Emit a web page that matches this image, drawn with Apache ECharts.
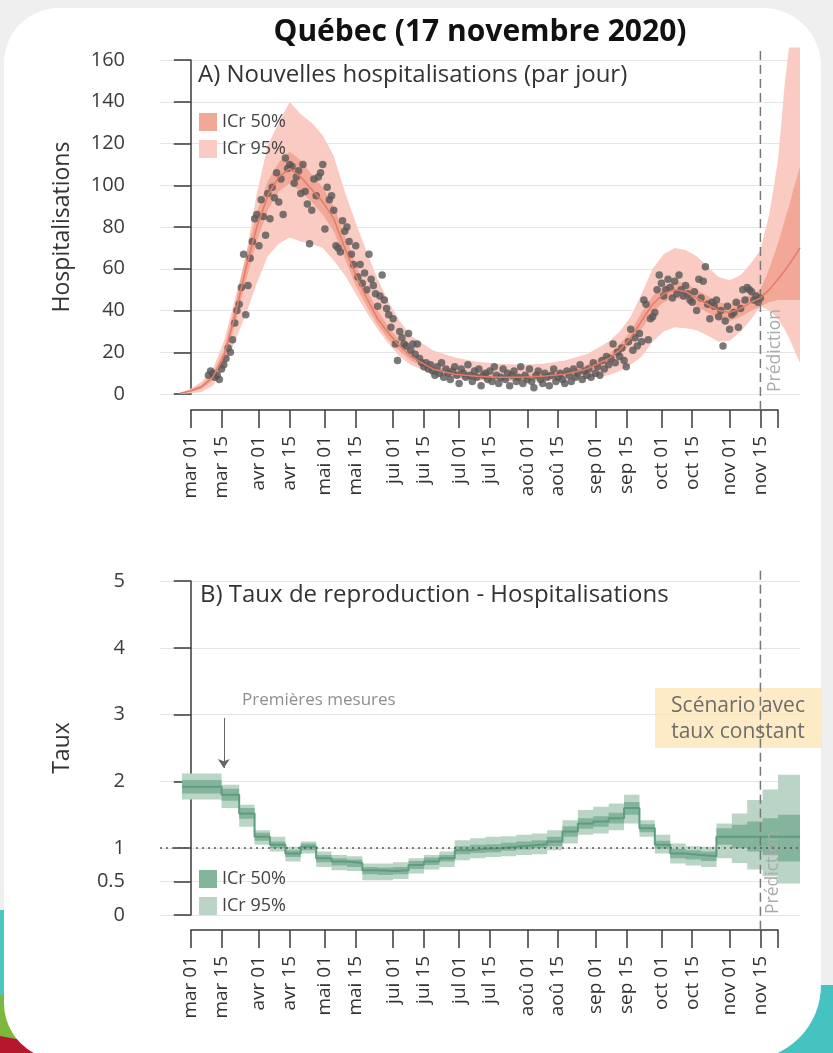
<!DOCTYPE html>
<html lang="fr">
<head>
<meta charset="utf-8">
<title>Québec (17 novembre 2020)</title>
<script src="https://cdn.jsdelivr.net/npm/echarts@6.0.0/dist/echarts.min.js"></script>
<style>
  html, body { margin: 0; padding: 0; }
  body { width: 833px; height: 1053px; position: relative; overflow: hidden; background: #efefef; }
  .deco { position: absolute; }
  #teal-left { left: 0; top: 910px; width: 70px; height: 106px; background: #4ec6c0; }
  #green-left { left: 0; top: 995px; width: 120px; height: 58px; background: #7cb83e; clip-path: polygon(0 0, 100% 35%, 100% 100%, 0 100%); }
  #red-left { left: 0; top: 1036px; width: 90px; height: 17px; background: #b5172c; clip-path: polygon(0 0, 100% 100%, 0 100%); }
  #teal-right { right: 0; top: 985px; width: 80px; height: 68px; background: #46c3c1; }
  #card { position: absolute; left: 4px; top: 8px; width: 817px; height: 1052px; background: #fff; border-radius: 55px 58px 75px 57px; }
  #chart { position: absolute; left: 0; top: 0; width: 833px; height: 1053px; }
</style>
</head>
<body>
<div class="deco" id="teal-left"></div>
<div class="deco" id="green-left"></div>
<div class="deco" id="red-left"></div>
<div class="deco" id="teal-right"></div>
<div id="card"></div>
<div id="chart"></div>
<script>
// jours comptés depuis le 1er mars 2020
const tickDays = [0, 14, 31, 45, 61, 75, 92, 106, 122, 136, 153, 167, 184, 198, 214, 228, 245, 259];
const tickLabels = ['mar 01', 'mar 15', 'avr 01', 'avr 15', 'mai 01', 'mai 15', 'jui 01', 'jui 15', 'jul 01',
  'jul 15', 'aoû 01', 'aoû 15', 'sep 01', 'sep 15', 'oct 01', 'oct 15', 'nov 01', 'nov 15'];
const axisEndDay = 267;
const predictionDay = 259;

// A) nouvelles hospitalisations observées, une valeur par jour à partir du 9 mars (jour 8)
const hospStartDay = 8;
const hospDaily = [
  9, 11, 10, 8, 9, 7, 12, 14, 17, 22,
  20, 26, 34, 40, 43, 51, 67, 38, 52, 65,
  73, 84, 86, 71, 93, 85, 76, 96, 84, 99,
  94, 106, 92, 103, 86, 113, 108, 110, 109, 101,
  104, 107, 96, 110, 97, 91, 72, 88, 103, 95,
  104, 106, 110, 79, 99, 93, 95, 88, 71, 70,
  68, 83, 78, 80, 73, 67, 62, 71, 56, 62,
  53, 58, 50, 67, 55, 52, 48, 42, 47, 57,
  45, 41, 38, 32, 36, 24, 16, 30, 27, 24,
  23, 29, 21, 24, 19, 24, 17, 15, 13, 15,
  12, 14, 11, 9, 13, 10, 15, 8, 12, 10,
  7, 11, 13, 9, 5, 12, 10, 8, 14, 9,
  6, 11, 8, 12, 4, 9, 10, 7, 11, 6,
  13, 9, 5, 8, 12, 7, 10, 4, 9, 11,
  6, 8, 13, 5, 9, 7, 12, 6, 3, 9,
  11, 7, 5, 10, 8, 4, 9, 12, 6, 8,
  10, 7, 5, 11, 9, 6, 12, 8, 10, 14,
  7, 11, 9, 12, 8, 15, 10, 13, 9, 16,
  12, 18, 14, 17, 24, 15, 20, 18, 22, 16,
  13, 25, 31, 21, 27, 23, 29, 25, 45, 43,
  26, 36, 37, 39, 50, 57, 53, 47, 50, 55,
  51, 46, 54, 48, 57, 50, 47, 52, 48, 45,
  44, 49, 40, 55, 46, 54, 61, 43, 36, 44,
  42, 45, 37, 40, 23, 35, 42, 31, 38, 39,
  44, 32, 41, 50, 45, 51, 50, 49, 45, 47,
  44, 46
];

// A) médiane et intervalles crédibles du modèle
const bandDays = [-5, 0, 5, 10, 15, 20, 25, 30, 35, 40, 45, 50, 55, 60, 65, 70, 75, 80, 85, 90, 95, 100,
  110, 120, 130, 140, 150, 160, 170, 180, 190, 195, 200, 205, 210, 215, 220, 225, 230, 235, 240, 245,
  250, 255, 259, 263, 267, 270, 272, 274, 277];
const hospMed = [0.3, 1.5, 3.5, 8, 18, 37, 60, 80, 95, 104, 108, 104, 98, 92, 84, 70, 57, 46, 36, 29, 23, 18,
  12, 9.5, 8.5, 8, 8, 8.5, 9.5, 12, 17, 21, 27, 35, 43, 48, 50, 49, 46, 43, 40, 39,
  41, 44, 46, 50, 55, 59, 62, 65, 70];
const hospLo50 = [0.1, 1, 2.5, 6.5, 15, 33, 54, 73, 88, 97, 101, 97, 92, 86, 78, 65, 52, 42, 33, 26, 20.5, 16,
  10.5, 8, 7, 6.5, 6.5, 7, 8, 10, 15, 18.5, 24, 31, 39, 44, 46, 45, 42, 39, 36, 35,
  37, 40, 42, 44, 45, 45, 45, 45, 45];
const hospHi50 = [0.5, 2, 4.5, 10, 21, 42, 66, 87, 102, 111, 116, 112, 105, 99, 90, 76, 62, 50, 40, 32, 25.5, 20,
  13.5, 11, 10, 9.5, 9.5, 10, 11, 14, 19, 24, 30, 39, 47, 52, 54, 53, 50, 47, 44, 43,
  45, 48, 50, 60, 72, 83, 90, 98, 109];
const hospLo95 = [0, 0.3, 1, 4, 12, 25, 38, 53, 66, 72, 75, 73, 72, 70, 64, 57, 48, 39, 31, 24, 18, 14,
  9.5, 7.5, 6.5, 6.2, 6.2, 6.2, 6.5, 7.5, 9, 11, 14, 18, 25, 30, 32, 31.5, 30.5, 28, 25, 25.5,
  30, 36, 42, 40, 36, 31, 27, 22, 15];
const hospHi95 = [0.6, 2.5, 6, 12, 25, 45, 66, 96, 119, 130, 140, 134, 130, 124, 114, 97, 82, 68, 55, 44, 35, 28,
  21, 17.5, 15.5, 14.5, 14, 14.5, 16, 19, 25, 30, 37, 48, 60, 67, 70, 69, 66, 61, 56, 54.5,
  57, 63, 69, 86, 112, 148, 166, 166, 166];

// B) taux de reproduction, valeurs par palier (début de chaque palier)
const rtDays = [-4, 14, 22, 29, 36, 43, 50, 57, 64, 71, 78, 85, 92, 99, 106, 113, 120, 127, 134, 141, 148,
  155, 162, 169, 176, 183, 190, 197, 204, 211, 218, 225, 232, 239, 246, 253, 260, 267, 277];
const rtMed = [1.92, 1.80, 1.52, 1.17, 1.05, 0.92, 1.02, 0.85, 0.80, 0.78, 0.67, 0.66, 0.67, 0.75, 0.80, 0.85,
  0.97, 0.99, 1.0, 1.02, 1.04, 1.06, 1.1, 1.25, 1.37, 1.4, 1.45, 1.6, 1.3, 1.05, 0.92, 0.9, 0.88,
  1.17, 1.17, 1.17, 1.17, 1.17, 1.17];
const rtLo50 = [1.82, 1.71, 1.44, 1.11, 1.0, 0.87, 0.97, 0.79, 0.74, 0.72, 0.61, 0.60, 0.61, 0.69, 0.75, 0.80,
  0.91, 0.93, 0.94, 0.96, 0.98, 1.0, 1.03, 1.17, 1.29, 1.32, 1.37, 1.5, 1.24, 0.99, 0.85, 0.83, 0.81,
  1.05, 1.0, 0.95, 0.9, 0.8, 0.8];
const rtHi50 = [2.02, 1.89, 1.60, 1.23, 1.10, 0.97, 1.07, 0.90, 0.85, 0.83, 0.72, 0.71, 0.72, 0.81, 0.86, 0.90,
  1.03, 1.05, 1.06, 1.08, 1.10, 1.12, 1.17, 1.33, 1.45, 1.48, 1.53, 1.69, 1.36, 1.11, 0.99, 0.97, 0.95,
  1.3, 1.35, 1.4, 1.45, 1.5, 1.5];
const rtLo95 = [1.73, 1.60, 1.32, 1.05, 0.95, 0.80, 0.92, 0.72, 0.67, 0.66, 0.52, 0.52, 0.54, 0.62, 0.68, 0.72,
  0.82, 0.85, 0.87, 0.88, 0.90, 0.91, 0.97, 1.07, 1.20, 1.22, 1.27, 1.37, 1.17, 0.92, 0.77, 0.74, 0.72,
  0.85, 0.78, 0.68, 0.58, 0.47, 0.47];
const rtHi95 = [2.12, 1.95, 1.65, 1.27, 1.17, 1.02, 1.10, 0.95, 0.90, 0.88, 0.77, 0.77, 0.79, 0.85, 0.90, 0.95,
  1.12, 1.15, 1.17, 1.18, 1.20, 1.22, 1.27, 1.42, 1.57, 1.62, 1.67, 1.80, 1.42, 1.20, 1.07, 1.03, 1.02,
  1.37, 1.52, 1.72, 1.88, 2.1, 2.1];

const legendText = { h50: 'ICr 50%', h95: 'ICr 95%', r50: 'ICr 50%', r95: 'ICr 95%' };
const font = '"Open Sans", sans-serif';
const ink = '#3a3a3a';
const pink95 = '#f9cbc2', pink50 = '#f3a797', pinkLine = '#e27c67';
const green95 = '#bad5c6', green50 = '#84b49b', greenLine = '#5e9c7e';

const pairs = (xs, ys) => xs.map((x, i) => [x, ys[i]]);

// bande entre lo et hi, dessinée comme un polygone via api.coord
function band(name, axis, xs, lo, hi, color, stepped) {
  return {
    type: 'custom', name, xAxisIndex: axis, yAxisIndex: axis, silent: true, clip: false,
    itemStyle: { color },
    data: [[xs[0], lo[0]]],
    renderItem: (params, api) => {
      const upper = [], lower = [];
      xs.forEach((x, i) => {
        if (stepped && i > 0) {
          upper.push(api.coord([x, hi[i - 1]]));
          lower.push(api.coord([x, lo[i - 1]]));
        }
        upper.push(api.coord([x, hi[i]]));
        lower.push(api.coord([x, lo[i]]));
      });
      return { type: 'polygon', shape: { points: upper.concat(lower.reverse()) }, style: { fill: color } };
    }
  };
}

function yAxisBase(grid, name) {
  return {
    gridIndex: grid, type: 'value', name, nameLocation: 'middle', nameGap: 86,
    nameTextStyle: { fontSize: 23, color: '#333' },
    axisLine: { show: true, lineStyle: { color: ink, width: 1.5 } },
    axisTick: { show: true, length: 17, lineStyle: { color: ink, width: 1.5 } },
    axisLabel: { margin: 35, fontSize: 20, color: '#3c3c3c' },
    splitLine: { show: true, lineStyle: { color: '#e4e4e4', width: 1 } }
  };
}

function tickAxis(grid) {
  return {
    gridIndex: grid, type: 'value', min: 0, max: axisEndDay, position: 'bottom',
    axisLine: { show: true, onZero: false, lineStyle: { color: ink, width: 1.5 } },
    axisTick: { show: true, length: 18, customValues: tickDays.concat([axisEndDay]), lineStyle: { color: ink, width: 1.5 } },
    axisLabel: { customValues: tickDays, rotate: 90, margin: 26, fontSize: 19, color: '#333',
      formatter: v => tickLabels[tickDays.indexOf(v)] },
    splitLine: { show: false }
  };
}

const dataX = { type: 'value', min: -14, max: 277, show: false };
const hiddenY = { type: 'value', min: 0, max: 1, show: false };

const option = {
  animation: false,
  textStyle: { fontFamily: font },
  grid: [
    { left: 160, right: 33, top: 60, height: 334 },
    { left: 190.8, right: 55, top: 409, height: 1 },
    { left: 160, right: 33, top: 581, height: 334 },
    { left: 190.8, right: 55, top: 929, height: 1 }
  ],
  xAxis: [
    { ...dataX, gridIndex: 0 },
    tickAxis(1),
    { ...dataX, gridIndex: 2 },
    tickAxis(3)
  ],
  yAxis: [
    { ...yAxisBase(0, 'Hospitalisations'), min: 0, max: 160, interval: 20 },
    { ...hiddenY, gridIndex: 1 },
    {
      ...yAxisBase(2, 'Taux'), min: 0, max: 5, interval: 0.5,
      axisTick: { show: true, length: 17, customValues: [0, 0.5, 1, 2, 3, 4, 5], lineStyle: { color: ink, width: 1.5 } },
      axisLabel: { margin: 35, fontSize: 20, color: '#3c3c3c', customValues: [0, 0.5, 1, 2, 3, 4, 5] }
    },
    { ...hiddenY, gridIndex: 3 }
  ],
  legend: [
    { left: 194, top: 108, orient: 'vertical', icon: 'rect', itemWidth: 18, itemHeight: 18, itemGap: 9,
      selectedMode: false, formatter: n => legendText[n], textStyle: { fontSize: 18, color: '#444' },
      data: [{ name: 'h50', itemStyle: { color: pink50 } }, { name: 'h95', itemStyle: { color: pink95 } }] },
    { left: 194, top: 865, orient: 'vertical', icon: 'rect', itemWidth: 18, itemHeight: 18, itemGap: 9,
      selectedMode: false, formatter: n => legendText[n], textStyle: { fontSize: 18, color: '#444' },
      data: [{ name: 'r50', itemStyle: { color: green50 } }, { name: 'r95', itemStyle: { color: green95 } }] }
  ],
  series: [
    band('h95', 0, bandDays, hospLo95, hospHi95, pink95, false),
    band('h50', 0, bandDays, hospLo50, hospHi50, pink50, false),
    { type: 'line', xAxisIndex: 0, yAxisIndex: 0, data: pairs(bandDays, hospMed), showSymbol: false, silent: true,
      lineStyle: { color: pinkLine, width: 1.5 } },
    { type: 'scatter', xAxisIndex: 0, yAxisIndex: 0, data: hospDaily.map((v, i) => [hospStartDay + i, v]),
      symbolSize: 7.5, itemStyle: { color: '#585858' }, silent: true },
    { type: 'line', xAxisIndex: 0, yAxisIndex: 0, data: [[predictionDay, -7.7], [predictionDay, 166]], clip: false,
      showSymbol: false, silent: true, z: 5, lineStyle: { color: '#777', width: 1.5, type: [9, 5] } },

    band('r95', 2, rtDays, rtLo95, rtHi95, green95, true),
    band('r50', 2, rtDays, rtLo50, rtHi50, green50, true),
    { type: 'line', xAxisIndex: 2, yAxisIndex: 2, step: 'end', data: pairs(rtDays, rtMed), showSymbol: false, silent: true,
      lineStyle: { color: greenLine, width: 2 },
      markLine: { silent: true, symbol: 'none', label: { show: false },
        lineStyle: { color: '#555', type: [2, 4], width: 1.5 }, data: [{ yAxis: 1 }] } },
    { type: 'line', xAxisIndex: 2, yAxisIndex: 2, data: [[predictionDay, -0.22], [predictionDay, 5.21]], clip: false,
      showSymbol: false, silent: true, z: 5, lineStyle: { color: '#777', width: 1.5, type: [9, 5] },
      markLine: { silent: true, symbol: ['none', 'arrow'], symbolSize: 9, label: { show: false },
        lineStyle: { color: '#666', type: 'solid', width: 1 },
        data: [[{ coord: [15, 2.95] }, { coord: [15, 2.2] }]] } }
  ],
  graphic: [
    { type: 'text', x: 480, y: 32, z: 100, style: { text: 'Québec (17 novembre 2020)', font: 'bold 30px ' + font,
      fill: '#111', align: 'center', verticalAlign: 'middle' } },
    { type: 'text', x: 198, y: 75, z: 100, style: { text: 'A) Nouvelles hospitalisations (par jour)', font: '24px ' + font,
      fill: '#333', align: 'left', verticalAlign: 'middle' } },
    { type: 'text', x: 200, y: 595, z: 100, style: { text: 'B) Taux de reproduction - Hospitalisations', font: '24px ' + font,
      fill: '#333', align: 'left', verticalAlign: 'middle' } },
    { type: 'text', x: 775, y: 392, rotation: Math.PI / 2, z: 100, style: { text: 'Prédiction', font: '17.5px ' + font,
      fill: '#ababab', align: 'left', verticalAlign: 'middle' } },
    { type: 'text', x: 773, y: 914, rotation: Math.PI / 2, z: 100, style: { text: 'Prédiction', font: '17.5px ' + font,
      fill: '#ababab', align: 'left', verticalAlign: 'middle' } },
    { type: 'text', x: 242, y: 700, z: 100, style: { text: 'Premières mesures', font: '17px ' + font,
      fill: '#8f8f8f', align: 'left', verticalAlign: 'middle' } },
    { type: 'rect', z: 1, shape: { x: 655, y: 688, width: 167, height: 60 }, style: { fill: 'rgba(252, 226, 172, 0.7)' } },
    { type: 'text', x: 738, y: 719, z: 100, style: { text: 'Scénario avec\ntaux constant', font: '21px ' + font,
      fill: '#6d6d6d', align: 'center', verticalAlign: 'middle', lineHeight: 26 } }
  ]
};

const chart = echarts.init(document.getElementById('chart'));
chart.setOption(option);
</script>
</body>
</html>
